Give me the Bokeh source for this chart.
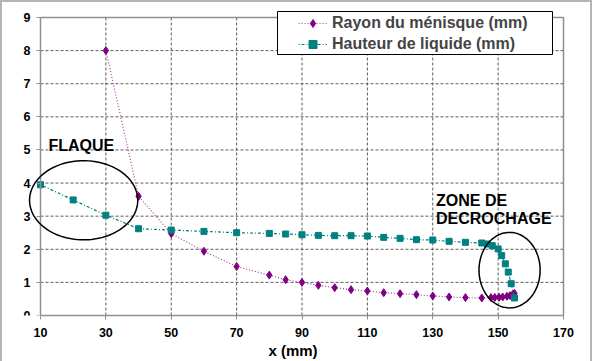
import numpy as np
from bokeh.plotting import figure
from bokeh.models import (Range1d, Legend, LegendItem, Label, PolyAnnotation,
                          FixedTicker)
from bokeh.embed import file_html
from bokeh.resources import INLINE

# Liquid height along the plate (mm)
x_hauteur = [10, 20, 30, 40, 50, 60, 70, 80, 85, 90, 95, 100, 105, 110, 115,
             120, 125, 130, 135, 140, 145, 146.7, 148.2, 150, 151.1, 152.2,
             153.1, 154, 155]
hauteur = [3.95, 3.49, 3.03, 2.62, 2.58, 2.54, 2.50, 2.48, 2.46, 2.44, 2.42,
           2.41, 2.41, 2.40, 2.36, 2.33, 2.29, 2.28, 2.24, 2.21, 2.19, 2.16,
           2.11, 2.01, 1.81, 1.56, 1.31, 0.96, 0.53]

# Meniscus radius (mm)
x_rayon = [30, 40, 50, 60, 70, 80, 85, 90, 95, 100, 105, 110, 115, 120, 125,
           130, 135, 140, 145, 147.8, 149, 150.3, 151.4, 152.7, 153.6, 154.4,
           155]
rayon = [8.0, 3.60, 2.47, 1.94, 1.48, 1.22, 1.08, 1.00, 0.91, 0.84, 0.78,
         0.74, 0.69, 0.66, 0.63, 0.59, 0.56, 0.54, 0.53, 0.54, 0.545, 0.55,
         0.56, 0.58, 0.60, 0.63, 0.67]

x_ticks = [10, 30, 50, 70, 90, 110, 130, 150, 170]
y_ticks = [0, 1, 2, 3, 4, 5, 6, 7, 8, 9]

FONT = "Liberation Sans"
PURPLE = "#800080"
TEAL = "#008080"
BOX_GREY = "#8f8f8f"
GRID_GREY = "#5c5c5c"

# Axis box in pixels: x 10..170 spans 40..563, y 0..9 spans 315..17.
# The drawing frame is a little larger so the legend box, the left
# ellipse and the y tick labels can overhang the axis box.
AX_L, AX_R, AX_T, AX_B = 40, 563, 17, 315
FR_L, FR_R, FR_T = 20, 565, 10
W, H = 592, 361
kx = (AX_R - AX_L) / (x_ticks[-1] - x_ticks[0])   # pixels per mm
ky = (AX_B - AX_T) / (y_ticks[-1] - y_ticks[0])   # pixels per y unit


def px_to_x(px):
    return x_ticks[0] + (px - AX_L) / kx


def py_to_y(py):
    return y_ticks[0] + (AX_B - py) / ky


p = figure(width=W, height=H, output_backend="svg", toolbar_location=None,
           x_range=Range1d(px_to_x(FR_L), px_to_x(FR_R)),
           y_range=Range1d(y_ticks[0], py_to_y(FR_T)),
           min_border_left=FR_L, min_border_right=W - FR_R,
           min_border_top=FR_T, min_border_bottom=H - AX_B)
p.background_fill_color = "white"
p.border_fill_alpha = 0
p.outline_line_color = None
p.xgrid.visible = False
p.ygrid.visible = False
# light grey chart border on the left, top and right
p.styles = {"box-shadow": "inset 2px 0 0 #b4b4b4, inset -2px 0 0 #b4b4b4, "
                          "inset 0 2px 0 #b4b4b4"}

# axes
for ax in (p.xaxis[0], p.yaxis[0]):
    ax.axis_line_color = "#909090"
    ax.axis_line_width = 1.5
    ax.major_tick_line_color = "#909090"
    ax.major_tick_in = 0
    ax.major_tick_out = 4
    ax.minor_tick_line_color = None
    ax.major_label_text_font = FONT
    ax.major_label_text_font_style = "bold"
    ax.major_label_text_color = "black"
    ax.major_label_text_font_size = "12.5px"

p.xaxis.ticker = FixedTicker(ticks=x_ticks)
p.yaxis.ticker = FixedTicker(ticks=y_ticks)
p.xaxis.bounds = (x_ticks[0], x_ticks[-1])
p.yaxis.bounds = (y_ticks[0], y_ticks[-1])
p.yaxis.fixed_location = x_ticks[0]
p.xaxis.major_label_standoff = 8
p.yaxis.major_label_standoff = 6
p.xaxis.axis_label = "x (mm)"
p.xaxis.axis_label_text_font = FONT
p.xaxis.axis_label_text_font_style = "bold"
p.xaxis.axis_label_text_font_size = "15px"
p.xaxis.axis_label_text_color = "black"
p.xaxis.axis_label_standoff = 2

# dashed grid inside the axis box, under the series
x0, x1 = float(x_ticks[0]), float(x_ticks[-1])
y0, y1 = float(y_ticks[0]), float(y_ticks[-1])
gx = np.array(x_ticks[1:-1], dtype=float)
gy = np.array(y_ticks[1:-1], dtype=float)
p.segment(x0=gx, y0=np.full(gx.size, y0), x1=gx, y1=np.full(gx.size, y1),
          line_color=GRID_GREY, line_width=1, line_dash="3 2")
p.segment(x0=np.full(gy.size, x0), y0=gy, x1=np.full(gy.size, x1), y1=gy,
          line_color=GRID_GREY, line_width=1, line_dash="3 2")

# series
r_line = p.line(x_rayon, rayon, line_color="#a040a0", line_width=1.2,
                line_dash="1 2")
r_pts = p.scatter(x_rayon, rayon, marker="diamond", size=8,
                  fill_color=PURPLE, line_color=PURPLE)
h_line = p.line(x_hauteur, hauteur, line_color=TEAL, line_width=1.2,
                line_dash="1 2 3 2")
h_pts = p.scatter(x_hauteur, hauteur, marker="square", size=6,
                  fill_color=TEAL, line_color=TEAL)

# top and right sides of the axis box
p.line(np.array([x0, x1, x1]), np.array([y1, y1, y0]),
       line_color=BOX_GREY, line_width=1.5)


# ellipses around the two zones
def ellipse_path(cx, cy, w, h, n=120):
    t = np.linspace(0, 2 * np.pi, n)
    return list(cx + w / 2 * np.cos(t)), list(cy + h / 2 * np.sin(t))


for cx, cy, w, h in [(23.2, 3.48, 33.1, 2.39), (153.5, 1.37, 18.7, 2.28)]:
    xs, ys = ellipse_path(cx, cy, w, h)
    p.add_layout(PolyAnnotation(xs=xs, ys=ys, fill_alpha=0,
                                line_color="black", line_alpha=1,
                                line_width=1.5))

for txt, x, y in [("FLAQUE", 12.45, 5.13), ("ZONE DE", 131.0, 3.47),
                  ("DECROCHAGE", 131.0, 2.92)]:
    p.add_layout(Label(x=x, y=y, text=txt, text_font=FONT,
                       text_font_style="bold", text_font_size="16px",
                       text_baseline="alphabetic", text_color="black"))

# legend frame (white box with black border), then the entries over it
lx0, lx1 = px_to_x(277), px_to_x(552)
ly0, ly1 = py_to_y(54), py_to_y(11)
p.add_layout(PolyAnnotation(xs=[lx0, lx1, lx1, lx0], ys=[ly0, ly0, ly1, ly1],
                            fill_color="white", fill_alpha=1,
                            line_color="black", line_alpha=1, line_width=1))
legend = Legend(items=[LegendItem(label="Rayon du ménisque (mm)",
                                  renderers=[r_line, r_pts]),
                       LegendItem(label="Hauteur de liquide (mm)",
                                  renderers=[h_line, h_pts])],
                location=(296 - FR_L, AX_B - 56), padding=2, spacing=1,
                margin=0, glyph_width=29, glyph_height=20, label_height=20,
                label_standoff=5, border_line_alpha=0,
                background_fill_alpha=0,
                label_text_font=FONT, label_text_font_style="bold",
                label_text_font_size="16px")
p.add_layout(legend)

open("out.html", "w").write(file_html(p, INLINE))
